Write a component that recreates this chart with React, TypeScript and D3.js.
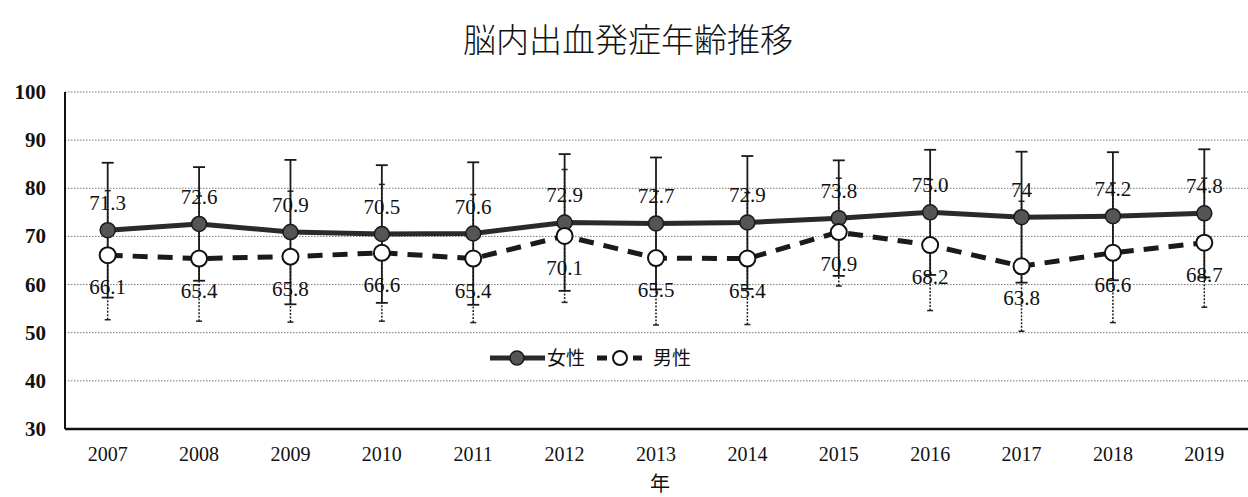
import * as d3 from 'd3';

const years = ['2007', '2008', '2009', '2010', '2011', '2012', '2013', '2014', '2015', '2016', '2017', '2018', '2019'];
const female = [71.3, 72.6, 70.9, 70.5, 70.6, 72.9, 72.7, 72.9, 73.8, 75.0, 74, 74.2, 74.8];
const femaleLabels = ['71.3', '72.6', '70.9', '70.5', '70.6', '72.9', '72.7', '72.9', '73.8', '75.0', '74', '74.2', '74.8'];
const male = [66.1, 65.4, 65.8, 66.6, 65.4, 70.1, 65.5, 65.4, 70.9, 68.2, 63.8, 66.6, 68.7];
const femaleSd = [14.0, 11.8, 15.0, 14.3, 14.8, 14.2, 13.7, 13.8, 12.0, 13.0, 13.6, 13.3, 13.3];
const maleSd = [13.4, 13.0, 13.6, 14.2, 13.3, 13.8, 13.9, 13.7, 11.2, 13.6, 13.5, 14.5, 13.4];
const yTicks = [30, 40, 50, 60, 70, 80, 90, 100];

const W = 1248;
const H = 497;
const left = 65;
const top = 92;
const bottom = 429;

export default function App() {
  const x = d3.scalePoint<string>().domain(years).range([62, 1250]).padding(0.5);
  const y = d3.scaleLinear().domain([30, 100]).range([bottom, top]);

  const line = d3.line<number>()
    .x((_, i) => x(years[i])!)
    .y(d => y(d));

  const serif = '"Liberation Serif", "DejaVu Serif", serif';
  const cjk = '"Noto Sans CJK JP", sans-serif';

  return (
    <svg width={W} height={H} style={{ position: 'absolute', left: 0, top: 0, background: '#fff' }}>
      <text x={628} y={52} textAnchor="middle" fontFamily={cjk} fontSize={33} fontWeight={300} fill="#111">脳内出血発症年齢推移</text>

      {/* grid */}
      {yTicks.filter(t => t > 30).map(t => (
        <line key={t} x1={left} x2={W} y1={y(t)} y2={y(t)} stroke="#777" strokeWidth={1} strokeDasharray="1.5,1.5" />
      ))}
      {yTicks.map(t => (
        <text key={'l' + t} x={46} y={y(t) + 7} textAnchor="end" fontFamily={serif} fontSize={21} fontWeight="bold" fill="#111">{t}</text>
      ))}
      <line x1={left} x2={left} y1={top} y2={bottom} stroke="#111" strokeWidth={2} />
      <line x1={left} x2={W} y1={bottom} y2={bottom} stroke="#111" strokeWidth={2.5} />

      {years.map(yr => (
        <text key={yr} x={x(yr)} y={461} textAnchor="middle" fontFamily={serif} fontSize={20} fill="#111">{yr}</text>
      ))}
      <text x={660} y={491} textAnchor="middle" fontFamily={cjk} fontSize={20} fill="#111">年</text>

      {/* male error bars (dotted) */}
      {years.map((yr, i) => {
        const cx = x(yr)!;
        return (
          <g key={'me' + yr} stroke="#222" strokeWidth={1.5}>
            <line x1={cx} x2={cx} y1={y(male[i] - maleSd[i])} y2={y(male[i] + maleSd[i])} strokeDasharray="2,1.5" />
            <line x1={cx - 3} x2={cx + 3} y1={y(male[i] - maleSd[i])} y2={y(male[i] - maleSd[i])} />
            <line x1={cx - 3} x2={cx + 3} y1={y(male[i] + maleSd[i])} y2={y(male[i] + maleSd[i])} />
          </g>
        );
      })}
      {/* female error bars */}
      {years.map((yr, i) => {
        const cx = x(yr)!;
        return (
          <g key={'fe' + yr} stroke="#1a1a1a" strokeWidth={1.8}>
            <line x1={cx} x2={cx} y1={y(female[i] - femaleSd[i])} y2={y(female[i] + femaleSd[i])} />
            <line x1={cx - 6} x2={cx + 6} y1={y(female[i] - femaleSd[i])} y2={y(female[i] - femaleSd[i])} />
            <line x1={cx - 6} x2={cx + 6} y1={y(female[i] + femaleSd[i])} y2={y(female[i] + femaleSd[i])} />
          </g>
        );
      })}

      <path d={line(male)!} fill="none" stroke="#1a1a1a" strokeWidth={5} strokeDasharray="15,10" />
      <path d={line(female)!} fill="none" stroke="#2a2a2a" strokeWidth={5} />

      {female.map((v, i) => (
        <circle key={'fc' + i} cx={x(years[i])} cy={y(v)} r={7.5} fill="#555" stroke="#1a1a1a" strokeWidth={1.5} />
      ))}
      {male.map((v, i) => (
        <circle key={'mc' + i} cx={x(years[i])} cy={y(v)} r={8} fill="#fff" stroke="#111" strokeWidth={2} />
      ))}

      {female.map((v, i) => (
        <text key={'ft' + i} x={x(years[i])} y={y(v) - 20} textAnchor="middle" fontFamily={serif} fontSize={21} fill="#111">{femaleLabels[i]}</text>
      ))}
      {male.map((v, i) => (
        <text key={'mt' + i} x={x(years[i])} y={y(v) + 39} textAnchor="middle" fontFamily={serif} fontSize={21} fill="#111">{male[i].toFixed(1)}</text>
      ))}

      {/* legend */}
      <g>
        <line x1={490} x2={545} y1={358} y2={358} stroke="#2a2a2a" strokeWidth={5} />
        <circle cx={517} cy={358} r={7} fill="#555" stroke="#1a1a1a" strokeWidth={1.5} />
        <text x={547} y={365} fontFamily={cjk} fontSize={19} fill="#111">女性</text>
        <line x1={597} x2={642} y1={358} y2={358} stroke="#1a1a1a" strokeWidth={5} strokeDasharray="10,8" />
        <circle cx={620} cy={358} r={7} fill="#fff" stroke="#111" strokeWidth={2} />
        <text x={653} y={365} fontFamily={cjk} fontSize={19} fill="#111">男性</text>
      </g>
    </svg>
  );
}
